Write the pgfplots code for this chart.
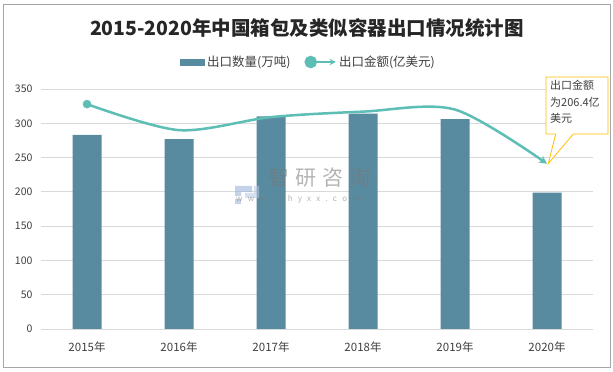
\documentclass[border=0pt]{standalone}
\usepackage{pgfplots}
\pgfplotsset{compat=1.18}
\usetikzlibrary{arrows.meta}
\usepackage{fontspec}
\setmainfont{Noto Sans CJK SC}
\definecolor{barc}{RGB}{88,139,160}
\definecolor{linec}{RGB}{92,190,180}
\definecolor{gridc}{RGB}{217,217,217}
\definecolor{txt}{RGB}{64,64,64}
\definecolor{callout}{RGB}{255,192,0}
\definecolor{framec}{RGB}{166,166,166}
\definecolor{wm}{RGB}{120,120,120}
\definecolor{wmlogo}{RGB}{150,175,215}
\begin{document}
\begin{tikzpicture}[x=1pt,y=1pt]
\useasboundingbox (0,0) rectangle (613,372);
\fill[white] (0,0) rectangle (613,372);
\draw[line width=1pt, framec] (3.5,4.5) rectangle (610.5,367.5);
\node[font=\fontsize{19.5}{22}\selectfont\bfseries, text=black!85] at (307,344) {2015-2020年中国箱包及类似容器出口情况统计图};
\begin{axis}[
  at={(41pt,43pt)}, anchor=south west, scale only axis,
  width=552pt, height=240pt,
  xmin=-0.5, xmax=5.5, ymin=0, ymax=350,
  ytick={0,50,...,350},
  xtick={0,1,2,3,4,5},
  xticklabels={2015年,2016年,2017年,2018年,2019年,2020年},
  axis line style={draw=none},
  tick style={draw=none},
  ymajorgrids, grid style={gridc, line width=0.8pt},
  /pgf/number format/assume math mode=true,
  yticklabel style={font=\fontsize{10.5}{12}\selectfont, text=txt},
  xticklabel style={font=\fontsize{11.5}{13}\selectfont, text=txt},
  xticklabel shift=9pt,
  yticklabel shift=5pt,
  clip=false,
  legend style={at={(0.4846,1.1125)}, anchor=center, draw=none, fill=none,
    font=\fontsize{12.5}{14}\selectfont, text=txt,
    /tikz/every even column/.append style={column sep=12pt}},
  legend columns=2,
]
\addplot[ybar, bar width=29pt, fill=barc, draw=none,
  legend image code/.code={\fill[barc] (0pt,-3.5pt) rectangle (25pt,3.5pt);}]
  coordinates {(0,283) (1,277) (2,310) (3,314) (4,306) (5,199)};
\addlegendentry{出口数量(万吨)}
\addplot[linec, line width=2.5pt, smooth, tension=0.5,
  mark=*, mark indices={1}, mark size=4pt, mark options={fill=linec, draw=linec, line width=0.5pt},
  -{Stealth[length=8pt,width=8pt]},
  legend image code/.code={\draw[linec, line width=2.5pt, -{Stealth[length=6pt,width=6pt]}] (0pt,0pt) -- (30pt,0pt); \fill[linec] (5pt,0pt) circle (5pt);}]
  coordinates {(0,328) (1,290) (2,309) (3,317) (4,320) (5,241)};
\addlegendentry{出口金额(亿美元)}
\end{axis}
% watermark (drawn over the chart, semi-transparent)
\begin{scope}[opacity=0.55]
\fill[wmlogo] (235,186) -- (252,186) -- (252,180) -- (241,180) -- (241,176) -- (235,176) -- cycle;
\fill[wmlogo!70!white] (245,174) -- (259,174) -- (259,186) -- (254,186) -- (254,179) -- (245,179) -- cycle;
\fill[wmlogo] (235,168) rectangle (241,173);
\node[text=wm, font=\fontsize{21}{24}\selectfont, anchor=west, inner sep=0pt] at (268,194.5) {智\hspace{6pt}研\hspace{6pt}咨\hspace{6pt}询};
\node[text=wm, font=\fontsize{8}{9}\selectfont, anchor=west, inner sep=0pt] at (236,173) {w\hspace{5.2pt}w\hspace{5.2pt}w\hspace{5.2pt}.\hspace{5.2pt}c\hspace{5.2pt}h\hspace{5.2pt}y\hspace{5.2pt}x\hspace{5.2pt}x\hspace{5.2pt}.\hspace{5.2pt}c\hspace{5.2pt}o\hspace{5.2pt}m};
\end{scope}
% callout
\draw[callout, fill=white, line width=0.8pt] (546,295) -- (608,295) -- (608,238) -- (573.3,238) -- (548.3,208.5) -- (555.7,238) -- (546,238) -- cycle;
\node[anchor=north west, align=left, inner sep=0pt, text=txt, font=\fontsize{11}{16.5}\selectfont] at (550,292) {出口金额\\为206.4亿\\美元};
\end{tikzpicture}
\end{document}
